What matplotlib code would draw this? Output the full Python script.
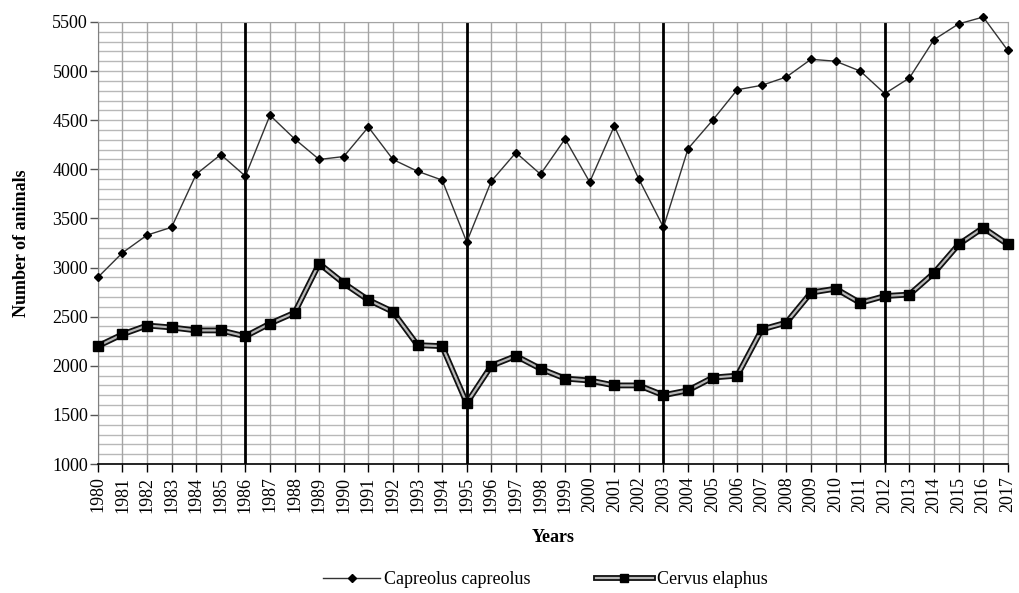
import matplotlib
matplotlib.use("Agg")
import matplotlib.pyplot as plt
from matplotlib.lines import Line2D
from matplotlib.legend_handler import HandlerTuple

years = list(range(1980, 2018))
capreolus = [2900, 3150, 3330, 3410, 3950, 4150, 3930, 4550, 4310, 4100,
             4130, 4430, 4100, 3980, 3890, 3260, 3880, 4170, 3950, 4310,
             3870, 4440, 3900, 3410, 4210, 4500, 4810, 4855, 4940, 5120,
             5100, 5000, 4770, 4930, 5320, 5480, 5550, 5210]
cervus = [2200, 2320, 2410, 2390, 2360, 2360, 2300, 2430, 2540, 3040,
          2840, 2670, 2550, 2210, 2200, 1620, 2000, 2100, 1970, 1870,
          1850, 1800, 1800, 1700, 1750, 1880, 1900, 2370, 2440, 2745,
          2785, 2640, 2710, 2725, 2945, 3235, 3405, 3235]
period_years = [1986, 1995, 2003, 2012]
yticks = list(range(1000, 5501, 500))

plt.rcParams['font.family'] = ['Liberation Serif', 'DejaVu Serif']

fig = plt.figure(figsize=(10.19, 5.93), dpi=100)
ax = fig.add_axes([0.096, 0.2175, 0.893, 0.7455])

ax.set_xlim(1980, 2017)
ax.set_ylim(1000, 5500)

# grid
for y in range(1000, 5501, 100):
    ax.axhline(y, color='#b8b8b8', lw=1.0, zorder=0)
for x in years:
    ax.axvline(x, color='#a4a4a4', lw=1.0, zorder=0)
for x in period_years:
    ax.axvline(x, color='black', lw=2.0, zorder=1)

# Capreolus
ax.plot(years, capreolus, color='#333333', lw=1.0, marker='D', ms=4.5,
        mfc='black', mec='black', zorder=4, clip_on=False)
# Cervus: double line
ax.plot(years, cervus, color='#111111', lw=4.2, zorder=3, clip_on=False)
ax.plot(years, cervus, color='#b8b8b8', lw=1.6, zorder=3.5, clip_on=False)
ax.plot(years, cervus, ls='none', marker='s', ms=6.5, mfc='black', mec='black',
        zorder=3.6, clip_on=False)

ax.set_xticks(years)
ax.set_xticklabels([str(y) for y in years], rotation=90, fontsize=13)
ax.set_yticks(yticks)
ax.set_yticklabels([str(y) for y in yticks], fontsize=13)
ax.tick_params(axis='x', direction='out', length=6, width=1, color='black', pad=3)
ax.tick_params(axis='y', direction='out', length=6, width=1, color='#555555', pad=1)

for s in ['top', 'right']:
    ax.spines[s].set_color('#a4a4a4')
ax.spines['left'].set_color('#808080')
ax.spines['bottom'].set_color('black')
ax.spines['bottom'].set_linewidth(1.2)

ax.set_xlabel('Years', fontsize=13, fontweight='bold', labelpad=12)
ax.set_ylabel('Number of animals', fontsize=13, fontweight='bold', labelpad=16)

h1 = Line2D([], [], color='#333333', lw=1.0, marker='D', ms=4, mfc='black', mec='black')
h2a = Line2D([], [], color='#111111', lw=4.2)
h2b = Line2D([], [], color='#b8b8b8', lw=1.6)
h2c = Line2D([], [], ls='none', marker='s', ms=6, mfc='black', mec='black')
fig.legend([h1, (h2a, h2b, h2c)], ['Capreolus capreolus', 'Cervus elaphus'],
           handler_map={tuple: HandlerTuple(ndivide=1, pad=0)},
           loc='center', bbox_to_anchor=(0.535, 0.022), ncol=2, frameon=False,
           fontsize=13, handlelength=3.2, handletextpad=0.2, columnspacing=3.6)

fig.savefig('out.png', dpi=100)
